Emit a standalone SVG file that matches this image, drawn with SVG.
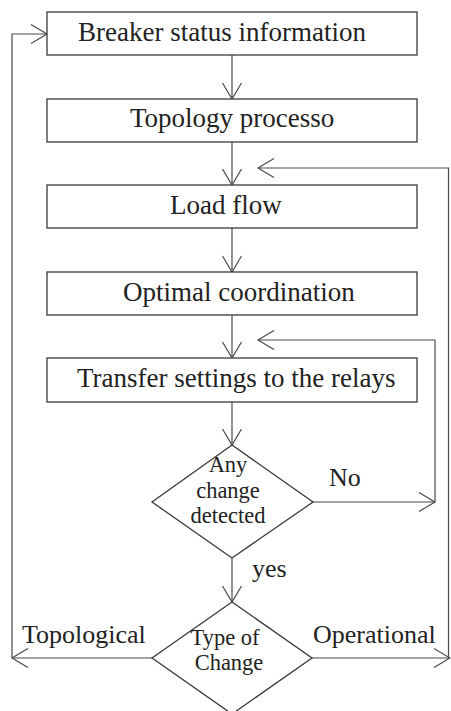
<svg xmlns="http://www.w3.org/2000/svg" width="451" height="711" viewBox="0 0 451 711">
<style>
.box{fill:#fff;stroke:#3a3a3a;stroke-width:1.3}
.c{fill:none;stroke:#4a4a4a;stroke-width:1.2}
.t{font-family:"Liberation Serif","Times New Roman",serif;fill:#222}
.bt{font-size:27px}
.dt{font-size:22.5px;text-anchor:middle}
.lt{font-size:26px}
</style>
<defs>
<marker id="ah" markerUnits="userSpaceOnUse" markerWidth="20" markerHeight="24" refX="0" refY="0" viewBox="-18 -12 20 24" orient="auto" overflow="visible">
<path d="M-16,-9.5 L0,0 L-16,9.5" fill="none" stroke="#4a4a4a" stroke-width="1.2"/>
</marker>
</defs>
<rect width="451" height="711" fill="#fff"/>
<g id="connectors">
<path class="c" d="M232,55 V99" marker-end="url(#ah)"/>
<path class="c" d="M232,142 V185" marker-end="url(#ah)"/>
<path class="c" d="M232,228 V272" marker-end="url(#ah)"/>
<path class="c" d="M232,315 V358" marker-end="url(#ah)"/>
<path class="c" d="M232,402 V445" marker-end="url(#ah)"/>
<path class="c" d="M232,558 V602" marker-end="url(#ah)"/>
<path class="c" d="M313,502 H435" marker-end="url(#ah)"/>
<path class="c" d="M435,502 V340 H258" marker-end="url(#ah)"/>
<path class="c" d="M312,658 H450" marker-end="url(#ah)"/>
<path class="c" d="M448.5,658 V168 H258" marker-end="url(#ah)"/>
<path class="c" d="M152,658 H12" marker-end="url(#ah)"/>
<path class="c" d="M12,658 V34 H47" marker-end="url(#ah)"/>
</g>
<g id="breaker">
<rect class="box" x="47" y="12" width="370" height="43"/>
<text class="t bt" x="78" y="41">Breaker status information</text>
</g>
<g id="topology">
<rect class="box" x="47" y="99" width="370" height="43"/>
<text class="t bt" x="130" y="127">Topology processo</text>
</g>
<g id="loadflow">
<rect class="box" x="47" y="185" width="370" height="43"/>
<text class="t bt" x="170" y="214">Load flow</text>
</g>
<g id="optimal">
<rect class="box" x="47" y="272" width="370" height="43"/>
<text class="t bt" x="123" y="301">Optimal coordination</text>
</g>
<g id="transfer">
<rect class="box" x="47" y="358" width="370" height="44"/>
<text class="t bt" x="77" y="387">Transfer settings to the relays</text>
</g>
<g id="anychange">
<polygon class="box" points="232,445 313,502 232,558 152,502"/>
<text class="t dt" x="228" y="472">Any</text>
<text class="t dt" x="228" y="498">change</text>
<text class="t dt" x="228" y="523">detected</text>
<text class="t lt" x="329" y="486">No</text>
<text class="t lt" x="252" y="577">yes</text>
</g>
<g id="typeofchange">
<polygon class="box" points="232,602 312,658 232,714 152,658"/>
<text class="t dt" x="225" y="645">Type of</text>
<text class="t dt" x="229" y="670">Change</text>
<text class="t lt" x="22" y="643">Topological</text>
<text class="t lt" x="313" y="643">Operational</text>
</g>
</svg>
